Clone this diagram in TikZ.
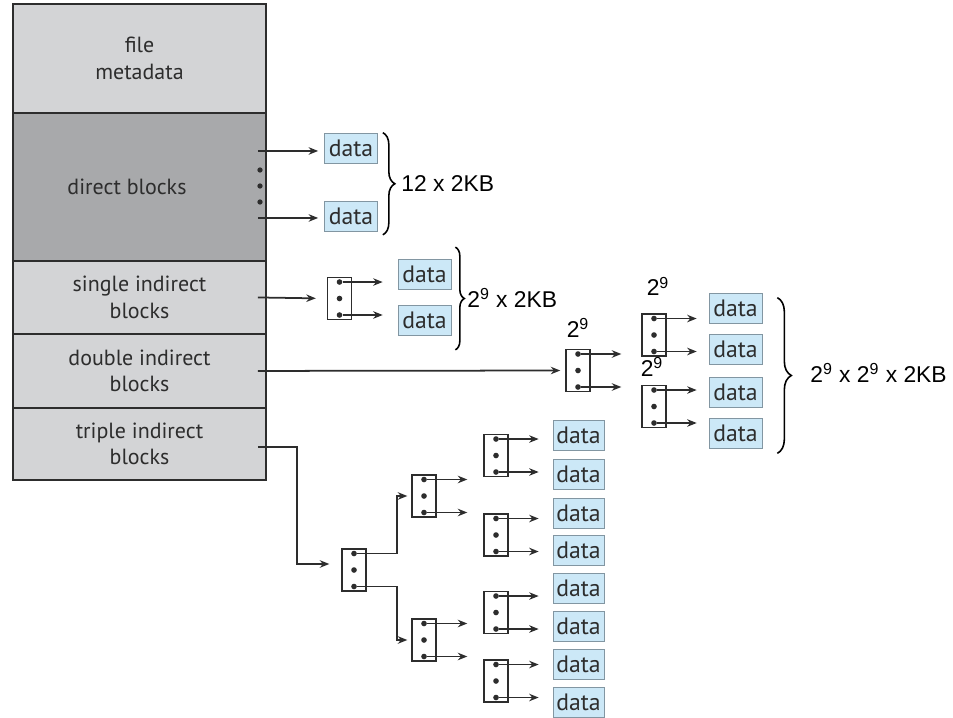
\documentclass[tikz,border=0pt]{standalone}
\usepackage{fontspec}
\setmainfont{PT Sans}
\newfontfamily\labelfont{Liberation Sans}
\usepackage{tikz}
\usetikzlibrary{arrows.meta, positioning, decorations.pathreplacing}

\definecolor{blockgray}{RGB}{211,212,214}
\definecolor{directgray}{RGB}{168,169,171}
\definecolor{datablue}{RGB}{204,232,247}
\definecolor{databorder}{RGB}{130,150,162}
\definecolor{inkgray}{RGB}{45,45,45}

\begin{document}
\begin{tikzpicture}[
  x=0.02cm, y=-0.02cm,
  inode/.style={draw=inkgray, fill=blockgray, line width=0.8pt, minimum width=5.06cm, inner sep=0, outer sep=0, align=center, text=inkgray, font=\fontsize{12.5}{15}\selectfont},
  datbox/.style={draw=databorder, fill=datablue, minimum width=1.06cm, minimum height=0.6cm, inner sep=0, text=inkgray, font=\fontsize{13.5}{15}\selectfont},
  ptr/.style={draw=inkgray, line width=0.8pt, minimum width=0.48cm, minimum height=0.84cm, inner sep=0},
  dot/.style={circle, fill=inkgray, inner sep=0, minimum size=3.2pt},
  arrow/.style={-{Stealth[length=1.9mm, width=1.5mm]}, line width=1pt, draw=inkgray},
  brace/.style={decorate, decoration={brace, amplitude=0.24cm}, line width=0.9pt},
  size/.style={inner sep=0, font=\labelfont\fontsize{13}{15}\selectfont}
]
  \useasboundingbox (0,0) rectangle (953,717);

  % inode column
  \node[inode, minimum height=2.18cm] (meta) at (139.5,58.5) {file\\metadata};
  \node[inode, fill=directgray, minimum height=2.96cm, below=0pt of meta] (direct) {direct blocks\hspace*{0.5cm}};
  \node[inode, minimum height=1.46cm, below=0pt of direct] (single) {single indirect\\blocks};
  \node[inode, minimum height=1.48cm, below=0pt of single] (double) {double indirect\\blocks};
  \node[inode, minimum height=1.44cm, below=0pt of double] (triple) {triple indirect\\blocks};
  \foreach \yy in {170,186,202} \fill[inkgray] (260,\yy) circle (1.5pt);

  % index blocks
  \foreach \n/\x/\y in {s/339.5/298.5, d/578/370.5, da/654/335, db/654/406.5,
      t/354/570, ta/424/496, tb/424/640,
      taa/496/455.5, tab/496/535, tba/496/612.5, tbb/496/681} {
    \node[ptr] (\n) at (\x,\y) {};
    \node[dot] (\n-t) at ([yshift=0.33cm]\n.center) {};
    \node[dot] (\n-m) at (\n.center) {};
    \node[dot] (\n-b) at ([yshift=-0.33cm]\n.center) {};
  }

  % data blocks
  \node[datbox] (dd1) at (351,148) {data};
  \node[datbox] (dd2) at (351,216.5) {data};
  \node[datbox] (sd1) at (424.5,274.5) {data};
  \node[datbox] (sd2) at (424.5,320.5) {data};
  \foreach \i/\y in {1/308.5, 2/349, 3/392, 4/433}
    \node[datbox] (bd\i) at (735.5,\y) {data};
  \foreach \i/\y in {1/435, 2/474, 3/513, 4/550, 5/588, 6/626, 7/664, 8/702}
    \node[datbox, minimum width=1.02cm] (td\i) at (578.5,\y) {data};

  % direct
  \coordinate (dir1) at ([shift={(-0.16cm,0.72cm)}]direct.east);
  \coordinate (dir2) at ([shift={(-0.16cm,-0.62cm)}]direct.east);
  \draw[arrow, shorten >=0.12cm] (dir1) -- (dir1 -| dd1.west);
  \draw[arrow, shorten >=0.12cm] (dir2) -- (dir2 -| dd2.west);

  % single, double, triple
  \draw[arrow, shorten >=0.22cm] ([xshift=-0.16cm]single.east) -- (s.west);
  \draw[arrow, shorten >=0.1cm] ([xshift=-0.16cm]double.east) -- (d.west);
  \coordinate (tK) at (297,564);
  \draw[arrow, shorten >=0.24cm] ([shift={(-0.16cm,-0.06cm)}]triple.east) -| (tK) -- (tK -| t.west);
  \draw[arrow, shorten >=0.08cm] (t-t) -- ++(43,0) |- (ta.west);
  \draw[arrow, shorten >=0.08cm] (t-b) -- ++(43,0) |- (tb.west);

  \foreach \a/\b/\sh in {s-t/sd1/0.3cm, s-b/sd2/0.3cm,
      d-t/da/0.4cm, d-b/db/0.4cm,
      da-t/bd1/0.24cm, da-b/bd2/0.24cm, db-t/bd3/0.24cm, db-b/bd4/0.24cm,
      ta-t/taa/0.32cm, ta-b/tab/0.32cm, tb-t/tba/0.32cm, tb-b/tbb/0.32cm,
      taa-t/td1/0.28cm, taa-b/td2/0.28cm, tab-t/td3/0.28cm, tab-b/td4/0.28cm,
      tba-t/td5/0.28cm, tba-b/td6/0.28cm, tbb-t/td7/0.28cm, tbb-b/td8/0.28cm}
    \draw[arrow, shorten >=\sh] (\a) -- (\a -| \b.west);

  % sizes
  \draw[brace] ([xshift=0.1cm]dd1.north east) -- ([shift={(0.1cm,-0.06cm)}]dd2.south east);
  \node[size, anchor=west] (sz1) at (401,184) {12 x 2KB};
  \draw[brace, decoration={amplitude=0.18cm}] ([shift={(0.08cm,0.24cm)}]sd1.north east) -- ([shift={(0.08cm,-0.28cm)}]sd2.south east);
  \node[size, anchor=west] (sz2) at (467,298) {2\textsuperscript{9} x 2KB};
  \draw[brace, decoration={amplitude=0.28cm}] ([shift={(0.3cm,-0.09cm)}]bd1.north east) -- ([shift={(0.3cm,-0.1cm)}]bd4.south east);
  \node[size, anchor=west] (sz3) at (810,373) {2\textsuperscript{9} x 2\textsuperscript{9} x 2KB};
  \node[size, above=0.22cm of d] (n1) {2\textsuperscript{9}};
  \node[size, above=0.34cm of da, xshift=0.08cm] (n2) {2\textsuperscript{9}};
  \node[size, above=0.16cm of db, xshift=-0.04cm] (n3) {2\textsuperscript{9}};
\end{tikzpicture}
\end{document}
